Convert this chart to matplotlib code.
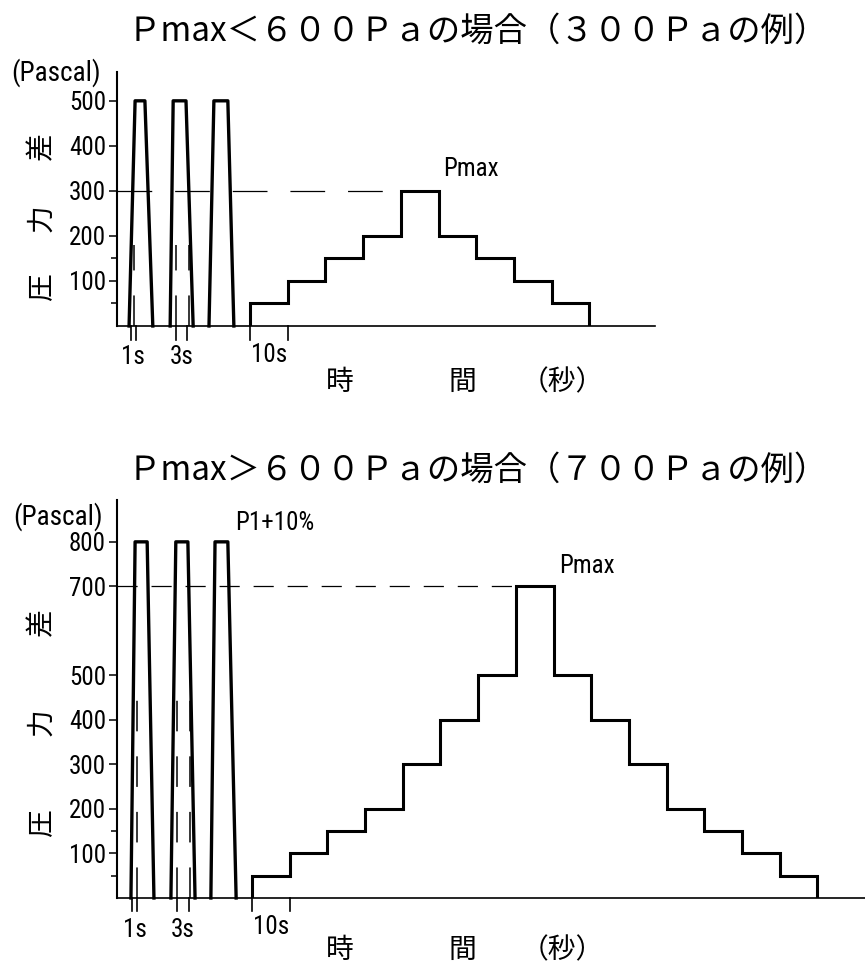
import numpy as np
import matplotlib
matplotlib.use("Agg")
import matplotlib.pyplot as plt
from matplotlib import font_manager as fm

plt.rcParams["lines.scale_dashes"] = False

W, H, DPI = 865, 969, 100

_installed = {f.name for f in fm.fontManager.ttflist}
NARROW = next((n for n in ["Liberation Sans Narrow", "DejaVu Sans Condensed",
                           "Roboto Condensed", "Liberation Sans"] if n in _installed),
              "DejaVu Sans")
JP = ["Noto Sans CJK JP", "DejaVu Sans"]

# ---------------- upper chart: Pmax < 600 Pa (300 Pa example) ----------------
top_title = "Ｐmax＜６００Ｐａの場合（３００Ｐａの例）"
top_pulse_t = [[3.2, 4.8, 7.4, 9.5], [14.1, 14.9, 18.3, 20.2], [24.4, 25.7, 29.4, 31.0]]
top_pulse_p = 500
top_step_start = 35.3
top_step_len = 10
top_levels = [50, 100, 150, 200, 300, 200, 150, 100, 50]
top_pmax = 300
top_1s = [3.7, 5.0]
top_3s = [15.6, 18.6]
top_guides = [4.5, 15.6, 19.1]
top_guide_h = 180
top_yticks = [100, 200, 300, 400, 500]
top_yminor = [50, 150]
top_tmax = 142.7
top_ymax = 564

# ---------------- lower chart: Pmax > 600 Pa (700 Pa example) ----------------
bot_title = "Ｐmax＞６００Ｐａの場合（７００Ｐａの例）"
bot_pulse_t = [[3.7, 4.8, 8.0, 9.8], [14.3, 15.6, 18.8, 20.7], [24.9, 26.0, 29.4, 31.6]]
bot_pulse_p = 800
bot_step_start = 35.8
bot_step_len = 10
bot_levels = [50, 100, 150, 200, 300, 400, 500, 700, 500, 400, 300, 200, 150, 100, 50]
bot_pmax = 700
bot_1s = [4.0, 5.3]
bot_3s = [15.9, 19.1]
bot_guides = [5.3, 15.9, 19.4]
bot_guide_h = 445
bot_yticks = [100, 200, 300, 400, 500, 700, 800]
bot_yminor = [50, 150]
bot_tmax = 198.4
bot_ymax = 894


def px(x, y):
    return x / W, 1 - y / H


def make_axes(fig, left, right, base, top):
    x0, y0 = px(left, base)
    x1, y1 = px(right, top)
    return fig.add_axes([x0, y0, x1 - x0, y1 - y0])


def draw_panel(ax, pulses, pulse_p, step_start, step_len, levels, pmax,
               marks_1s, marks_3s, guides, guide_h, yticks, yminor, tmax, ymax,
               ref_dash, mark_len):
    ax.set_xlim(0, tmax)
    ax.set_ylim(0, ymax)
    for s in ("top", "right"):
        ax.spines[s].set_visible(False)
    ax.spines["left"].set_linewidth(1.5)
    ax.spines["bottom"].set_linewidth(1.2)
    ax.set_xticks([])
    ax.set_yticks(yticks)
    ax.set_yticks(yminor, minor=True)
    ax.tick_params(axis="y", which="major", length=6, width=1.1, pad=2,
                   labelsize=18, labelfontfamily=NARROW)
    ax.tick_params(axis="y", which="minor", length=4, width=1.1)
    ax.patch.set_visible(False)

    # trapezoidal pressure pulses
    for t in pulses:
        ax.plot(t, [0, pulse_p, pulse_p, 0], color="k", lw=2.4,
                solid_joinstyle="round", clip_on=False)

    # pressure staircase
    edges = step_start + step_len * np.arange(len(levels) + 1)
    ax.stairs(levels, edges, baseline=0, color="k", lw=2.2, fill=False)

    # Pmax reference line
    ipk = int(np.argmax(levels))
    ax.plot([0, edges[ipk]], [pmax, pmax], color="k", lw=0.9, dashes=ref_dash)

    # dashed guides inside the pulses
    for g in guides:
        ax.plot([g, g], [0, guide_h], color="k", lw=1.1, dashes=(22, 18))

    # duration marks below the baseline
    for t in list(marks_1s) + list(marks_3s) + [edges[0], edges[1]]:
        ax.plot([t, t], [0, -mark_len], color="k", lw=1.2, clip_on=False)
    return edges, ipk


fig = plt.figure(figsize=(W / DPI, H / DPI), dpi=DPI)
fig.patch.set_facecolor("white")

# ---------- upper ----------
ax1 = make_axes(fig, 117, 655, 326, 72)
e1, k1 = draw_panel(ax1, top_pulse_t, top_pulse_p, top_step_start, top_step_len,
                    top_levels, top_pmax, top_1s, top_3s, top_guides, top_guide_h,
                    top_yticks, top_yminor, top_tmax, top_ymax, (25, 16.5), 30)
ax1.text(e1[k1 + 1] + 1.3, top_pmax + 22, "Pmax", fontsize=18, family=NARROW,
         ha="left", va="bottom")
ax1.text(np.mean(top_1s), -69, "1s", fontsize=18, family=NARROW, ha="center", va="center")
ax1.text(np.mean(top_3s), -69, "3s", fontsize=18, family=NARROW, ha="center", va="center")
ax1.text((e1[0] + e1[1]) / 2, -65, "10s", fontsize=18, family=NARROW, ha="center", va="center")

fig.text(*px(128, 31), top_title, fontsize=24, family=JP, ha="left", va="center")
fig.text(*px(101, 73), "(Pascal)", fontsize=19.5, family=NARROW, ha="right", va="center")
for ch, y in zip("差力圧", (146, 218, 287)):
    fig.text(*px(41, y), ch, fontsize=20, family=JP, rotation=90, ha="center", va="center")
for ch, x in zip(("時", "間", "（秒）"), (340, 462, 562)):
    fig.text(*px(x, 382), ch, fontsize=20, family=JP, ha="center", va="center")

# ---------- lower ----------
ax2 = make_axes(fig, 117, 865, 898, 500)
e2, k2 = draw_panel(ax2, bot_pulse_t, bot_pulse_p, bot_step_start, bot_step_len,
                    bot_levels, bot_pmax, bot_1s, bot_3s, bot_guides, bot_guide_h,
                    bot_yticks, bot_yminor, bot_tmax, bot_ymax, (14.5, 10), 30)
ax2.text(e2[k2 + 1] + 1.5, bot_pmax + 18, "Pmax", fontsize=18, family=NARROW,
         ha="left", va="bottom")
ax2.text(bot_pulse_t[2][3] - 0.3, bot_pulse_p + 16, "P1+10%", fontsize=18, family=NARROW,
         ha="left", va="bottom")
ax2.text(np.mean(bot_1s), -72, "1s", fontsize=18, family=NARROW, ha="center", va="center")
ax2.text(np.mean(bot_3s), -72, "3s", fontsize=18, family=NARROW, ha="center", va="center")
ax2.text((e2[0] + e2[1]) / 2, -66, "10s", fontsize=18, family=NARROW, ha="center", va="center")

fig.text(*px(128, 470), bot_title, fontsize=24, family=JP, ha="left", va="center")
fig.text(*px(103, 517), "(Pascal)", fontsize=19.5, family=NARROW, ha="right", va="center")
for ch, y in zip("差力圧", (622, 722, 823)):
    fig.text(*px(41, y), ch, fontsize=20, family=JP, rotation=90, ha="center", va="center")
for ch, x in zip(("時", "間", "（秒）"), (340, 462, 562)):
    fig.text(*px(x, 950), ch, fontsize=20, family=JP, ha="center", va="center")

fig.savefig("out.png", dpi=DPI, facecolor="white")
